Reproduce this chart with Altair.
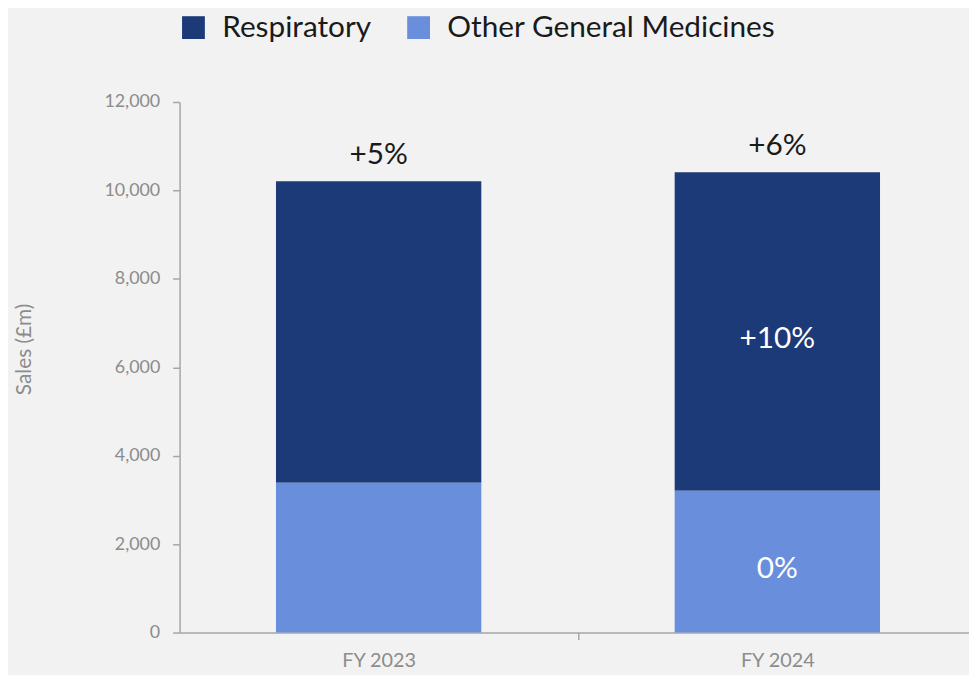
import altair as alt
import pandas as pd

categories = ["FY 2023", "FY 2024"]
respiratory = [6820, 7200]
other_general = [3390, 3210]
total_growth = ["+5%", "+6%"]
respiratory_growth = ["", "+10%"]
other_growth = ["", "0%"]
series = ["Respiratory", "Other General Medicines"]
colors = ["#1c3a78", "#698fdc"]
y_ticks = [0, 2000, 4000, 6000, 8000, 10000, 12000]

rows = []
for i, c in enumerate(categories):
    rows.append({"cat": c, "series": "Respiratory", "value": respiratory[i], "ord": 1})
    rows.append({"cat": c, "series": "Other General Medicines", "value": other_general[i], "ord": 0})
df = pd.DataFrame(rows)

lab_rows = []
for i, c in enumerate(categories):
    tot = respiratory[i] + other_general[i]
    lab_rows.append({"cat": c, "pos": tot, "label": total_growth[i], "kind": "top"})
    lab_rows.append({"cat": c, "pos": other_general[i] + respiratory[i] / 2, "label": respiratory_growth[i], "kind": "in"})
    lab_rows.append({"cat": c, "pos": other_general[i] / 2, "label": other_growth[i], "kind": "in"})
ldf = pd.DataFrame(lab_rows)

FONT = "Lato"
GRAY = "#8c8c8c"
AX = "#a6a6a6"
W = 796
PI = 0.485
PO = 0.2325
STEP = W / (2 - PI + 2 * PO)
HALF_STEP = STEP / 2

x_scale = alt.Scale(domain=categories, paddingInner=PI, paddingOuter=PO, align=0.52)

x_enc = alt.X("cat:N", sort=categories, title=None, scale=x_scale,
              axis=alt.Axis(labelAngle=0, tickSize=7, tickColor=AX, tickWidth=1.5,
                            tickOffset=HALF_STEP, labelOffset=-HALF_STEP,
                            domainColor=AX, domainWidth=1.5, labelColor=GRAY,
                            labelFontSize=20, labelFont=FONT, labelPadding=11))

bars = alt.Chart(df).mark_bar().encode(
    x=x_enc,
    y=alt.Y("value:Q", stack="zero", title="Sales (£m)",
            scale=alt.Scale(domain=[0, 12000]),
            axis=alt.Axis(values=y_ticks, format=",.0f", grid=False, tickSize=7,
                          tickColor=AX, tickWidth=1.5, domainColor=AX, domainWidth=1.5,
                          labelColor=GRAY, labelFontSize=18, labelFont=FONT, labelPadding=13,
                          titleColor=GRAY, titleFontSize=21, titleFont=FONT, titleFontWeight="normal",
                          titleX=-156, titleY=249, titleAngle=270, titleAlign="center",
                          titleBaseline="middle")),
    color=alt.Color("series:N", sort=series,
                    scale=alt.Scale(domain=series, range=colors),
                    legend=alt.Legend(title=None, orient="none", legendX=-1, legendY=-90,
                                      direction="horizontal", symbolType="square",
                                      symbolSize=529, symbolStrokeWidth=0, labelFontSize=30,
                                      labelFont=FONT, labelColor="#1a1a1a", labelOffset=14,
                                      columnPadding=32, labelLimit=500)),
    order=alt.Order("ord:Q", sort="ascending"),
)

top_text = alt.Chart(ldf).transform_filter(alt.datum.kind == "top").mark_text(
    fontSize=30, font=FONT, color="#1a1a1a", dy=-26, baseline="middle"
).encode(x=alt.X("cat:N", sort=categories, scale=x_scale), y="pos:Q", text="label:N")

in_text = alt.Chart(ldf).transform_filter(alt.datum.kind == "in").mark_text(
    fontSize=30, font=FONT, color="white", dy=8, baseline="middle"
).encode(x=alt.X("cat:N", sort=categories, scale=x_scale), y="pos:Q", text="label:N")

chart = alt.layer(bars, top_text, in_text).properties(
    width=W, height=535, background="#f2f2f2",
    autosize=alt.AutoSizeParams(type="none"),
    padding={"left": 173, "top": 92, "right": 0, "bottom": 40},
).configure_view(stroke=None)

chart.save("out.html", embed_options={"renderer": "svg", "actions": False})
